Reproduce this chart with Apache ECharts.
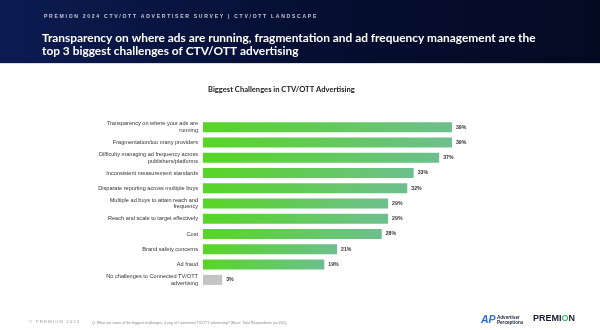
<!DOCTYPE html>
<html><head><meta charset="utf-8">
<script src="https://cdn.jsdelivr.net/npm/echarts@6/dist/echarts.min.js"></script>
<style>html,body{margin:0;padding:0;background:#fff}#c{width:600px;height:330px}</style>
</head><body><div id="c"></div>
<script>
const categories = [
  "Transparency on where your ads are\nrunning",
  "Fragmentation/too many providers",
  "Difficulty managing ad frequency across\npublishers/platforms",
  "Inconsistent measurement standards",
  "Disparate reporting across multiple buys",
  "Multiple ad buys to attain reach and\nfrequency",
  "Reach and scale to target effectively",
  "Cost",
  "Brand safety concerns",
  "Ad fraud",
  "No challenges to Connected TV/OTT\nadvertising"
];
const values = [39, 39, 37, 33, 32, 29, 29, 28, 21, 19, 3];
const grayIndex = [10];

const chart = echarts.init(document.getElementById('c'), null, {renderer: 'canvas'});
const greenGrad = new echarts.graphic.LinearGradient(0, 0, 1, 0, [
  {offset: 0, color: '#57d624'}, {offset: 1, color: '#6dbf8e'}
]);
const data = values.map((v, i) => ({
  value: v,
  itemStyle: {color: grayIndex.includes(i) ? '#c3c3c3' : greenGrad}
}));
const spaced = (s, sp) => s.split('').join(sp);
chart.setOption({
  animation: false,
  backgroundColor: '#ffffff',
  grid: {left: 203, right: 14, top: 119.5, bottom: 42.5, containLabel: false},
  xAxis: {type: 'value', min: 0, max: 60, show: false},
  yAxis: {
    type: 'category', data: categories, inverse: true,
    axisLine: {show: false}, axisTick: {show: false},
    axisLabel: {fontSize: 5.6, color: '#333', align: 'right', margin: 5, lineHeight: 6.8, fontFamily: 'Liberation Sans'}
  },
  series: [{
    type: 'bar', data: data, barWidth: 10,
    label: {show: true, position: 'right', distance: 4, formatter: '{c}%', fontSize: 5.2, fontWeight: 'bold', color: '#333', fontFamily: 'Liberation Sans'}
  }],
  graphic: [
    {type: 'rect', z: -1, shape: {x: 0, y: 0, width: 600, height: 63},
     style: {fill: new echarts.graphic.LinearGradient(0, 0, 1, 0.3, [{offset: 0, color: '#0c1c52'}, {offset: 0.5, color: '#060f33'}, {offset: 1, color: '#040a22'}])}},
    {type: 'rect', shape: {x: 0, y: 63, width: 600, height: 1}, style: {fill: '#d8dbe2'}},
    {type: 'text', left: 44, top: 14.5, style: {text: spaced('PREMION 2024 CTV/OTT ADVERTISER SURVEY | CTV/OTT LANDSCAPE', '\u2004'), font: 'bold 5.1px "Liberation Sans"', fill: '#c4c9d6'}},
    {type: 'text', left: 42, top: 31, style: {text: 'Transparency on where ads are running, fragmentation and ad frequency management are the\ntop 3 biggest challenges of CTV/OTT advertising', font: 'bold 11.9px Lato', fill: '#ffffff', lineHeight: 13.5}},
    {type: 'text', left: 208, top: 85.5, style: {text: 'Biggest Challenges in CTV/OTT Advertising', font: 'bold 7.6px Lato', fill: '#222'}},
    {type: 'text', left: 29, top: 319.5, style: {text: spaced('© PREMION 2024', '\u2005'), font: '4.4px "Liberation Sans"', fill: '#9a9a9a'}},
    {type: 'text', left: 92, top: 320.5, style: {text: 'Q. What are some of the biggest challenges, if any, of Connected TV/OTT advertising? (Base: Total Respondents (n=150))', font: '3.6px "Liberation Sans"', fill: '#8a8a8a'}},
    {type: 'text', left: 481, top: 314.5, style: {text: 'AP', font: 'italic bold 10.5px "Liberation Sans"', fill: '#2a6fd6'}},
    {type: 'text', left: 497, top: 315, style: {text: 'Advertiser\nPerceptions', font: 'bold 4.6px "Liberation Sans"', fill: '#1d2440', lineHeight: 5}},
    {type: 'text', left: 533, top: 314, style: {
      text: '{a|PREMI}{b|O}{a|N}',
      rich: {a: {font: 'bold 9px "Liberation Sans"', fill: '#141a33'}, b: {font: 'bold 9px "Liberation Sans"', fill: '#2fbf63'}}
    }}
  ]
});
</script></body></html>
